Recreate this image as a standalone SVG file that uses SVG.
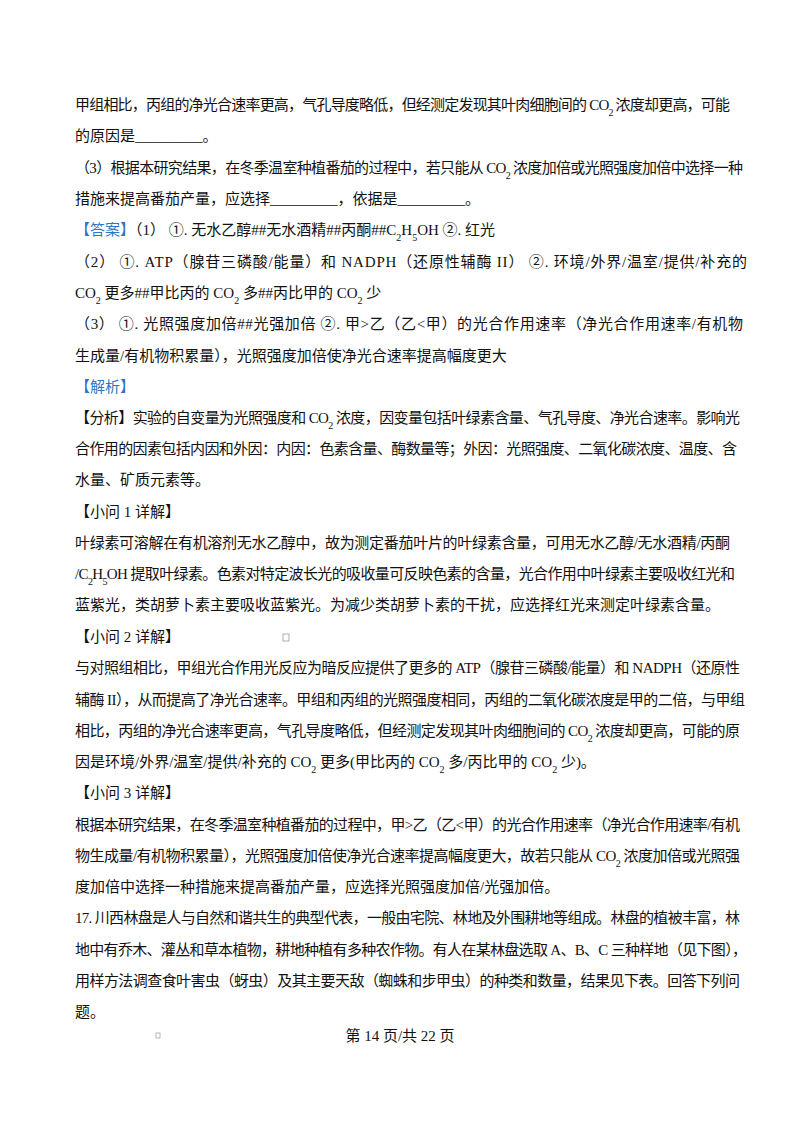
<svg xmlns="http://www.w3.org/2000/svg" width="800" height="1132" viewBox="0 0 800 1132">
<style>
text{font-family:"Liberation Serif","Noto Sans CJK SC",serif;font-size:15px;fill:#111}
.b{fill:#2e75c8}
.s{font-size:10px;baseline-shift:sub}
</style>
<rect width="800" height="1132" fill="#fff"/>
<text x="75" y="110" textLength="655" lengthAdjust="spacing">甲组相比，丙组的净光合速率更高，气孔导度略低，但经测定发现其叶肉细胞间的 CO<tspan class="s">2</tspan> 浓度却更高，可能</text>
<text x="75" y="141">的原因是_________。</text>
<text x="75" y="173" textLength="668" lengthAdjust="spacing">（3）根据本研究结果，在冬季温室种植番茄的过程中，若只能从 CO<tspan class="s">2</tspan> 浓度加倍或光照强度加倍中选择一种</text>
<text x="75" y="204">措施来提高番茄产量，应选择_________，依据是_________。</text>
<text x="75" y="235"><tspan class="b">【答案】</tspan>（1）      ①. 无水乙醇##无水酒精##丙酮##C<tspan class="s">2</tspan>H<tspan class="s">5</tspan>OH      ②. 红光</text>
<text x="75" y="267" textLength="672" lengthAdjust="spacing">（2）      ①. ATP（腺苷三磷酸/能量）和 NADPH（还原性辅酶 II）      ②. 环境/外界/温室/提供/补充的</text>
<text x="75" y="298">CO<tspan class="s">2</tspan> 更多##甲比丙的  CO<tspan class="s">2</tspan> 多##丙比甲的  CO<tspan class="s">2</tspan> 少</text>
<text x="75" y="329" textLength="668" lengthAdjust="spacing">（3）     ①. 光照强度加倍##光强加倍      ②.  甲&gt;乙（乙&lt;甲）的光合作用速率（净光合作用速率/有机物</text>
<text x="75" y="361">生成量/有机物积累量），光照强度加倍使净光合速率提高幅度更大</text>
<text x="75" y="392" class="b">【解析】</text>
<text x="75" y="423" textLength="665" lengthAdjust="spacing">【分析】实验的自变量为光照强度和 CO<tspan class="s">2</tspan> 浓度，因变量包括叶绿素含量、气孔导度、净光合速率。影响光</text>
<text x="75" y="454" textLength="662" lengthAdjust="spacing">合作用的因素包括内因和外因：内因：色素含量、酶数量等；外因：光照强度、二氧化碳浓度、温度、含</text>
<text x="75" y="485">水量、矿质元素等。</text>
<text x="75" y="517">【小问 1 详解】</text>
<text x="75" y="548" textLength="655" lengthAdjust="spacing">叶绿素可溶解在有机溶剂无水乙醇中，故为测定番茄叶片的叶绿素含量，可用无水乙醇/无水酒精/丙酮</text>
<text x="75" y="579" textLength="660" lengthAdjust="spacing">/C<tspan class="s">2</tspan>H<tspan class="s">5</tspan>OH 提取叶绿素。色素对特定波长光的吸收量可反映色素的含量，光合作用中叶绿素主要吸收红光和</text>
<text x="75" y="610">蓝紫光，类胡萝卜素主要吸收蓝紫光。为减少类胡萝卜素的干扰，应选择红光来测定叶绿素含量。</text>
<text x="75" y="642">【小问 2 详解】</text>
<rect x="283" y="634" width="6" height="7" fill="none" stroke="#999" stroke-width="0.8"/>
<text x="75" y="673" textLength="665" lengthAdjust="spacing">与对照组相比，甲组光合作用光反应为暗反应提供了更多的 ATP（腺苷三磷酸/能量）和 NADPH（还原性</text>
<text x="75" y="705" textLength="670" lengthAdjust="spacing">辅酶 II），从而提高了净光合速率。甲组和丙组的光照强度相同，丙组的二氧化碳浓度是甲的二倍，与甲组</text>
<text x="75" y="736" textLength="665" lengthAdjust="spacing">相比，丙组的净光合速率更高，气孔导度略低，但经测定发现其叶肉细胞间的 CO<tspan class="s">2</tspan> 浓度却更高，可能的原</text>
<text x="75" y="767">因是环境/外界/温室/提供/补充的  CO<tspan class="s">2</tspan> 更多(甲比丙的  CO<tspan class="s">2</tspan> 多/丙比甲的  CO<tspan class="s">2</tspan> 少)。</text>
<text x="75" y="798">【小问 3 详解】</text>
<text x="75" y="830" textLength="665" lengthAdjust="spacing">根据本研究结果，在冬季温室种植番茄的过程中，甲&gt;乙（乙&lt;甲）的光合作用速率（净光合作用速率/有机</text>
<text x="75" y="861" textLength="665" lengthAdjust="spacing">物生成量/有机物积累量），光照强度加倍使净光合速率提高幅度更大，故若只能从 CO<tspan class="s">2</tspan> 浓度加倍或光照强</text>
<text x="75" y="892">度加倍中选择一种措施来提高番茄产量，应选择光照强度加倍/光强加倍。</text>
<text x="75" y="923" textLength="665" lengthAdjust="spacing">17. 川西林盘是人与自然和谐共生的典型代表，一般由宅院、林地及外围耕地等组成。林盘的植被丰富，林</text>
<text x="75" y="955" textLength="672" lengthAdjust="spacing">地中有乔木、灌丛和草本植物，耕地种植有多种农作物。有人在某林盘选取 A、B、C 三种样地（见下图），</text>
<text x="75" y="986" textLength="665" lengthAdjust="spacing">用样方法调查食叶害虫（蚜虫）及其主要天敌（蜘蛛和步甲虫）的种类和数量，结果见下表。回答下列问</text>
<text x="75" y="1017">题。</text>
<rect x="156" y="1033" width="4" height="5" fill="none" stroke="#999" stroke-width="0.7"/>
<text x="400" y="1041" text-anchor="middle">第 14 页/共 22 页</text>
</svg>
